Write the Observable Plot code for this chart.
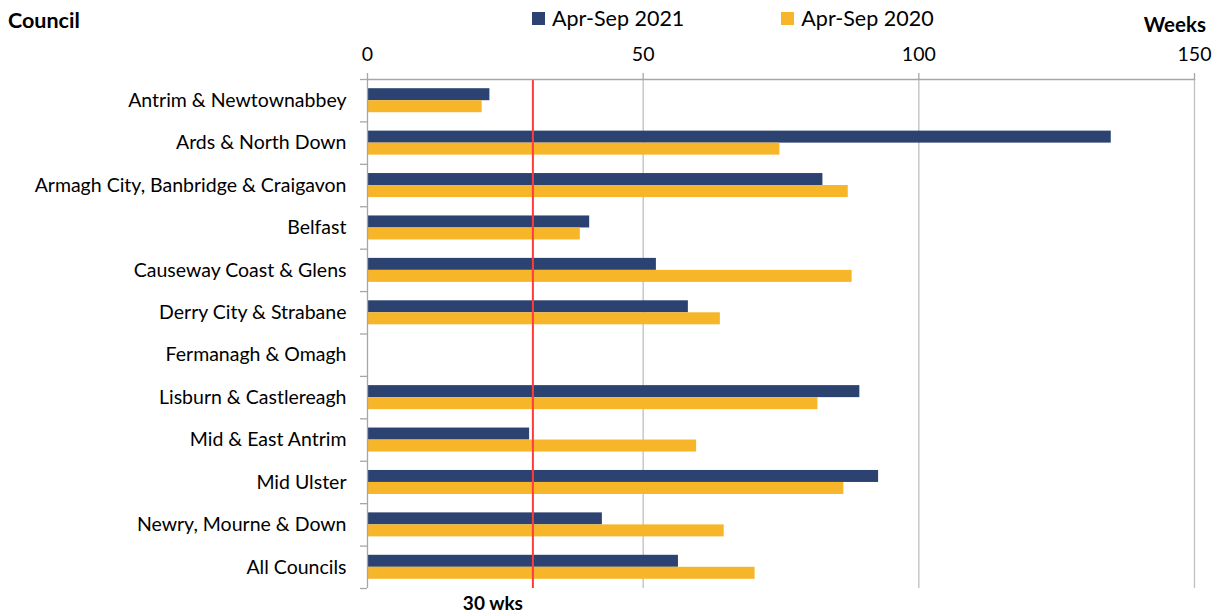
<!DOCTYPE html>
<html><head><meta charset="utf-8">
<script src="https://cdn.jsdelivr.net/npm/d3@7"></script>
<script src="https://cdn.jsdelivr.net/npm/@observablehq/plot@0.6"></script>
<style>
body{margin:0;background:#fff;font-family:Lato, "Liberation Sans", sans-serif;color:#000;}
#wrap{position:relative;width:1222px;height:615px;overflow:hidden;}
#head{position:relative;height:38px;}
#council{position:absolute;left:8px;top:7px;font-weight:bold;font-size:21.5px;}
#weeks{position:absolute;right:16px;top:12px;font-weight:bold;font-size:20.5px;}
#legend{position:absolute;left:532px;top:5px;display:flex;align-items:center;font-size:21.5px;}
.item{display:flex;align-items:center;}
.sw{width:13px;height:13px;margin-right:7px;}
#chart svg{display:block;}
</style></head><body>
<div id="wrap">
<div id="head">
 <div id="council">Council</div>
 <div id="legend"></div>
 <div id="weeks">Weeks</div>
</div>
<div id="chart"></div>
</div>
<script>
const councils = ["Antrim & Newtownabbey","Ards & North Down","Armagh City, Banbridge & Craigavon","Belfast","Causeway Coast & Glens","Derry City & Strabane","Fermanagh & Omagh","Lisburn & Castlereagh","Mid & East Antrim","Mid Ulster","Newry, Mourne & Down","All Councils"];
const weeks2021 = [22.2, 134.9, 82.6, 40.3, 52.4, 58.2, null, 89.3, 29.4, 92.7, 42.6, 56.4];
const weeks2020 = [20.8, 74.8, 87.2, 38.6, 87.9, 64.0, null, 81.7, 59.7, 86.4, 64.7, 70.3];
const seriesNames = ["Apr-Sep 2021", "Apr-Sep 2020"];
const seriesColors = ["#2C4270", "#F7B52A"];
const xTicks = [0, 50, 100, 150];
const targetWeeks = 30;
const targetLabel = "30 wks";

const leg = document.getElementById("legend");
seriesNames.forEach((s, i) => {
  const it = document.createElement("div");
  it.className = "item";
  it.style.marginRight = i === 0 ? "97px" : "0";
  const sw = document.createElement("div");
  sw.className = "sw";
  sw.style.background = seriesColors[i];
  const t = document.createElement("span");
  t.textContent = s;
  it.appendChild(sw); it.appendChild(t);
  leg.appendChild(it);
});

const height = 577, marginTop = 41, marginBottom = 27;
const band = (height - marginTop - marginBottom) / councils.length;
const half = band / 2;
const barH = 12;

const d21 = councils.map((c, i) => ({council: c, value: weeks2021[i]})).filter(d => d.value != null);
const d20 = councils.map((c, i) => ({council: c, value: weeks2020[i]})).filter(d => d.value != null);

const axisGray = "#A6A6A6";
const gridGray = "#BFBFBF";
const fs = 19.5;

const chart = Plot.plot({
  width: 1222,
  height,
  marginTop,
  marginBottom,
  marginLeft: 367,
  marginRight: 28,
  style: {fontFamily: "Lato, 'Liberation Sans', sans-serif", fontSize: fs + "px", color: "#000", background: "#fff"},
  x: {domain: [0, 150], axis: null},
  y: {domain: councils, padding: 0, round: false, axis: null},
  marks: [
    Plot.gridX(xTicks.slice(1), {stroke: gridGray, strokeOpacity: 1, strokeWidth: 1.3}),
    Plot.barX(d21, {x: "value", y: "council", fill: seriesColors[0], insetTop: half - barH, insetBottom: half}),
    Plot.barX(d20, {x: "value", y: "council", fill: seriesColors[1], insetTop: half, insetBottom: half - barH}),
    Plot.ruleX([targetWeeks], {stroke: "#FF3B3B", strokeWidth: 2}),
    Plot.text([targetWeeks], {x: d => d, frameAnchor: "bottom", lineAnchor: "middle", dy: 15, dx: -10, textAnchor: "end", text: () => targetLabel, fontWeight: "bold", fontSize: 19, fill: "#000"}),
    Plot.axisX({anchor: "top", ticks: xTicks, tickSize: 7, tickPadding: 12, stroke: axisGray, fill: "#000", strokeWidth: 1.3, label: null, fontSize: fs}),
    Plot.frame({anchor: "top", stroke: axisGray, strokeWidth: 1.3}),
    Plot.ruleX([0], {stroke: axisGray, strokeWidth: 1.3}),
    Plot.axisY({anchor: "left", tickSize: 7, dy: -half, text: null, stroke: axisGray, strokeWidth: 1.3, label: null}),
    Plot.axisY({anchor: "left", ticks: councils.slice(-1), tickSize: 7, dy: half, text: null, stroke: axisGray, strokeWidth: 1.3, label: null}),
    Plot.axisY({anchor: "left", tickSize: 0, tickPadding: 21, fill: "#000", label: null, fontSize: fs})
  ]
});
document.getElementById("chart").appendChild(chart);
</script>
</body></html>
